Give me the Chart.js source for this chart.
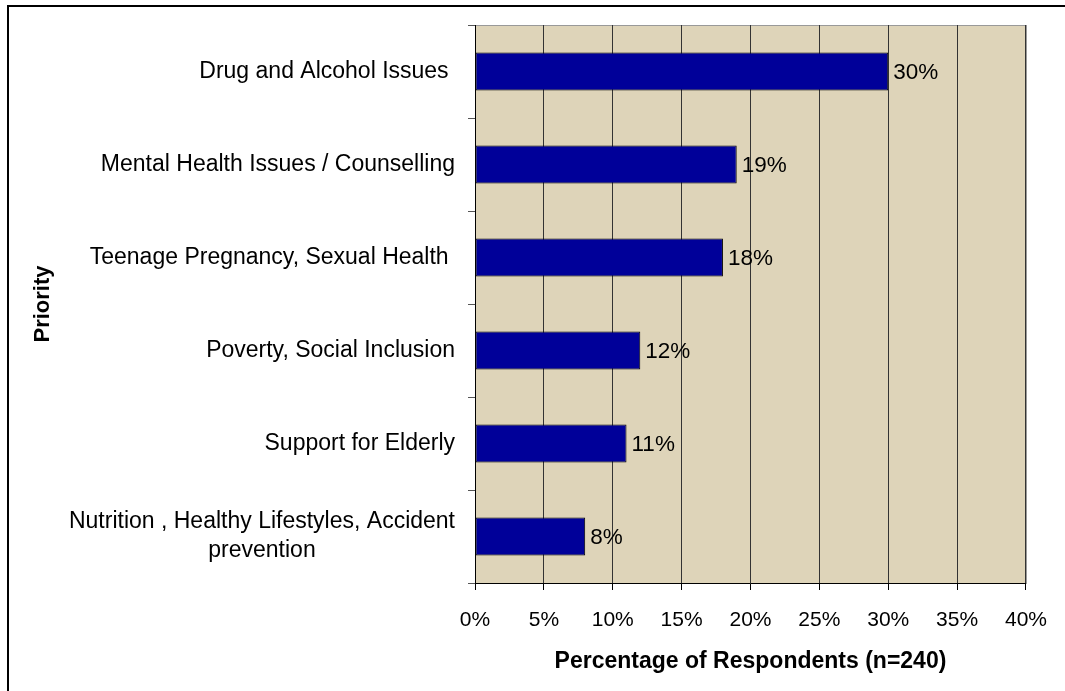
<!DOCTYPE html>
<html>
<head>
<meta charset="utf-8">
<script src="https://cdn.jsdelivr.net/npm/chart.js@4/dist/chart.umd.min.js"></script>
<style>
  body { margin: 0; background: #fff; }
  #wrap { width: 1065px; height: 691px; position: relative; }
</style>
</head>
<body>
<div id="wrap"><canvas id="priorityChart"></canvas></div>
<script>
const priorities = [
    'Drug and Alcohol Issues ',
    'Mental Health Issues / Counselling',
    'Teenage Pregnancy, Sexual Health ',
    'Poverty, Social Inclusion',
    'Support for Elderly',
    ['Nutrition , Healthy Lifestyles, Accident', 'prevention']
];
const percentages = [30, 19, 18, 12, 11, 8];
const xTickMax = 40;
const xTickStep = 5;

const FONT = "'Liberation Sans', Arial, sans-serif";

// outer frame, tan plot background
const backdrop = {
    id: 'backdrop',
    beforeDraw(chart) {
        const ctx = chart.ctx;
        const a = chart.chartArea;
        ctx.save();
        ctx.strokeStyle = '#000';
        ctx.lineWidth = 2;
        ctx.strokeRect(8, 6, chart.width + 20, chart.height + 20);
        ctx.fillStyle = '#DED4B9';
        ctx.fillRect(a.left, a.top, a.right - a.left, a.bottom - a.top);
        ctx.strokeStyle = '#999';
        ctx.lineWidth = 1;
        ctx.strokeRect(a.left + 0.5, a.top + 0.5, a.right - a.left, a.bottom - a.top);
        ctx.restore();
    }
};

// category labels: right aligned block, wrapped lines centred inside it
const categoryLabels = {
    id: 'categoryLabels',
    afterDraw(chart) {
        const ctx = chart.ctx;
        const yScale = chart.scales.y;
        const right = chart.chartArea.left - 20;
        ctx.save();
        ctx.font = '23px ' + FONT;
        ctx.fillStyle = '#000';
        ctx.textBaseline = 'middle';
        ctx.textAlign = 'center';
        const lh = 29;
        priorities.forEach((lbl, i) => {
            const lines = Array.isArray(lbl) ? lbl : [lbl];
            const w = Math.max(...lines.map(l => ctx.measureText(l).width));
            const cx = right - w / 2;
            const y0 = yScale.getPixelForTick(i) - (lines.length - 1) * lh / 2;
            lines.forEach((l, j) => ctx.fillText(l, cx, y0 + j * lh));
        });
        ctx.restore();
    }
};

// value labels at the end of each bar
const valueLabels = {
    id: 'valueLabels',
    afterDatasetsDraw(chart) {
        const ctx = chart.ctx;
        const meta = chart.getDatasetMeta(0);
        ctx.save();
        ctx.font = '22.5px ' + FONT;
        ctx.fillStyle = '#000';
        ctx.textBaseline = 'middle';
        ctx.textAlign = 'left';
        meta.data.forEach((bar, i) => {
            ctx.fillText(percentages[i] + '%', bar.x + 5, bar.y + 1);
        });
        ctx.restore();
    }
};

const chartData = {
    labels: priorities,
    datasets: [{
        data: percentages,
        backgroundColor: '#000099',
        borderColor: '#000',
        borderWidth: 1,
        borderSkipped: false,
        barPercentage: 0.41,
        categoryPercentage: 1
    }]
};

const config = {
    type: 'bar',
    data: chartData,
    options: {
        indexAxis: 'y',
        responsive: true,
        maintainAspectRatio: false,
        animation: false,
        layout: {
            padding: { left: 0, top: 25, right: 38, bottom: 0 }
        },
        plugins: {
            legend: { display: false },
            tooltip: { enabled: false }
        },
        scales: {
            x: {
                min: 0,
                max: xTickMax,
                afterFit: (scale) => { scale.height = 108; },
                ticks: {
                    stepSize: xTickStep,
                    padding: 18,
                    color: '#000',
                    font: { family: FONT, size: 21 },
                    callback: (v) => v + '%'
                },
                grid: {
                    color: '#333',
                    lineWidth: 1,
                    drawTicks: true,
                    tickLength: 7,
                    tickColor: '#000'
                },
                border: { display: true, color: '#000', width: 1 },
                title: {
                    display: true,
                    text: 'Percentage of Respondents (n=240)',
                    color: '#000',
                    font: { family: FONT, size: 23, weight: 'bold' },
                    padding: { top: 0, bottom: 16 }
                }
            },
            y: {
                afterFit: (scale) => { scale.width = 475; },
                ticks: { display: false },
                grid: {
                    offset: true,
                    drawOnChartArea: false,
                    drawTicks: true,
                    tickLength: 7,
                    tickColor: '#555'
                },
                border: { display: true, color: '#000', width: 1 },
                title: {
                    display: true,
                    text: 'Priority',
                    color: '#000',
                    font: { family: FONT, size: 22, weight: 'bold' },
                    padding: { top: 30, bottom: 0 }
                }
            }
        }
    },
    plugins: [backdrop, categoryLabels, valueLabels]
};

new Chart(document.getElementById('priorityChart'), config);
</script>
</body>
</html>
